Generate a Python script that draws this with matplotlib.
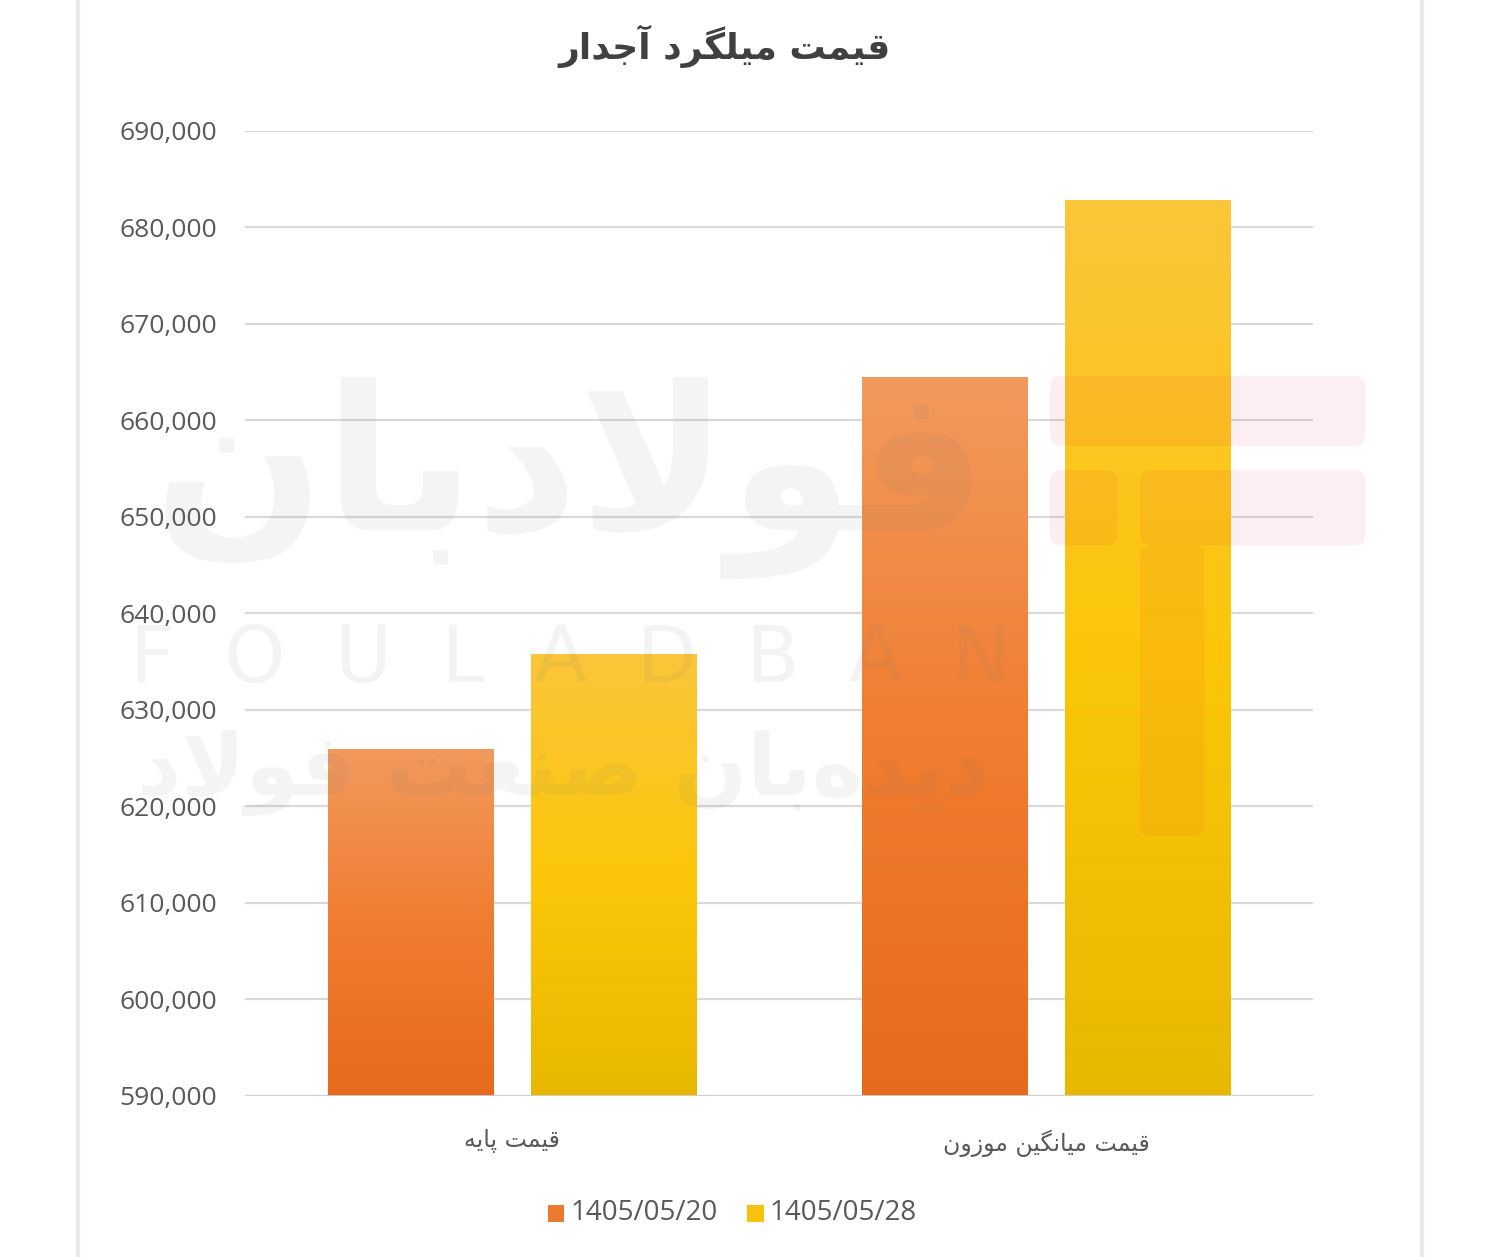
import numpy as np
import matplotlib.pyplot as plt
from matplotlib.colors import LinearSegmentedColormap
from matplotlib.patches import FancyBboxPatch

# داده‌ها
categories = ['قیمت پایه', 'قیمت میانگین موزون']
series_names = ['1405/05/20', '1405/05/28']
price_0520 = [626000, 664500]
price_0528 = [635800, 682800]
y_ticks = np.arange(590000, 690001, 10000)
title = 'قیمت میلگرد آجدار'

# شکل‌دهی ساده حروف فارسی (matplotlib خودش شکل‌دهی نمی‌کند)
FORMS = {
    'ا': ('\uFE8D', '\uFE8E', None, None), 'آ': ('\uFE81', '\uFE82', None, None),
    'ب': ('\uFE8F', '\uFE90', '\uFE91', '\uFE92'), 'پ': ('\uFB56', '\uFB57', '\uFB58', '\uFB59'),
    'ت': ('\uFE95', '\uFE96', '\uFE97', '\uFE98'), 'ج': ('\uFE9D', '\uFE9E', '\uFE9F', '\uFEA0'),
    'د': ('\uFEA9', '\uFEAA', None, None), 'ر': ('\uFEAD', '\uFEAE', None, None),
    'ز': ('\uFEAF', '\uFEB0', None, None), 'ص': ('\uFEB9', '\uFEBA', '\uFEBB', '\uFEBC'),
    'ع': ('\uFEC9', '\uFECA', '\uFECB', '\uFECC'), 'ف': ('\uFED1', '\uFED2', '\uFED3', '\uFED4'),
    'ق': ('\uFED5', '\uFED6', '\uFED7', '\uFED8'), 'گ': ('\uFB92', '\uFB93', '\uFB94', '\uFB95'),
    'ل': ('\uFEDD', '\uFEDE', '\uFEDF', '\uFEE0'), 'م': ('\uFEE1', '\uFEE2', '\uFEE3', '\uFEE4'),
    'ن': ('\uFEE5', '\uFEE6', '\uFEE7', '\uFEE8'), 'ه': ('\uFEE9', '\uFEEA', '\uFEEB', '\uFEEC'),
    'و': ('\uFEED', '\uFEEE', None, None), 'ی': ('\uFBFC', '\uFBFD', '\uFBFE', '\uFBFF'),
}
LAM_ALEF = {'ا': ('\uFEFB', '\uFEFC'), 'آ': ('\uFEF5', '\uFEF6')}


def fa(text):
    out = []
    i = 0
    n = len(text)
    while i < n:
        ch = text[i]
        if ch not in FORMS:
            if ch != '\u200c':
                out.append(ch)
            i += 1
            continue
        prev = text[i - 1] if i > 0 else ''
        joins_prev = prev in FORMS and FORMS[prev][2] is not None
        nxt = text[i + 1] if i + 1 < n else ''
        if ch == 'ل' and nxt in LAM_ALEF:
            out.append(LAM_ALEF[nxt][1 if joins_prev else 0])
            i += 2
            continue
        joins_next = nxt in FORMS and FORMS[ch][2] is not None
        iso, fin, ini, med = FORMS[ch]
        if joins_prev and joins_next:
            out.append(med)
        elif joins_prev:
            out.append(fin)
        elif joins_next:
            out.append(ini)
        else:
            out.append(iso)
        i += 1
    return ''.join(reversed(out))


fig = plt.figure(figsize=(15, 12.57), dpi=100)
fig.patch.set_facecolor('white')

# قاب کارت
card = FancyBboxPatch((0.052, -0.05), 0.896, 1.08, boxstyle='round,pad=0,rounding_size=0.03',
                      transform=fig.transFigure, facecolor='white', edgecolor='#e8e8e8',
                      linewidth=3, zorder=-5)
fig.patches.append(card)

ax = fig.add_axes([0.1633, 0.1281, 0.712, 0.7677])
ax.set_facecolor('none')
ax.set_zorder(1)

x = np.arange(len(categories))
width = 0.31
offset = 0.19
grad_specs = [
    (price_0520, -offset, ['#f29a5e', '#f07d30', '#e66a1c']),
    (price_0528, offset, ['#fbc53a', '#fcc70a', '#e8b800']),
]
base = 590000
for vals, off, cols in grad_specs:
    bars = ax.bar(x + off, np.array(vals) - base, width, bottom=base, color=cols[1],
                  zorder=2, linewidth=0)
    cmap = LinearSegmentedColormap.from_list('g', cols[::-1])
    grad = np.linspace(0, 1, 256).reshape(-1, 1)
    for b in bars:
        x0, y0 = b.get_x(), b.get_y()
        x1, y1 = x0 + b.get_width(), y0 + b.get_height()
        im = ax.imshow(grad, extent=[x0, x1, y0, y1], origin='lower', aspect='auto',
                       cmap=cmap, zorder=3)
        im.set_clip_path(b)

ax.set_xlim(-0.5, 1.5)
ax.set_ylim(590000, 690000)
ax.set_yticks(y_ticks)
ax.set_yticklabels([f'{v:,}' for v in y_ticks], fontsize=19, color='#595959',
                   family='Open Sans')
ax.set_xticks(x)
ax.set_xticklabels([fa(c) for c in categories], fontsize=17, color='#595959',
                   family='DejaVu Sans')
ax.tick_params(axis='both', length=0)
ax.tick_params(axis='y', pad=20)
ax.tick_params(axis='x', pad=24)
ax.grid(axis='y', color='#d9d9d9', linewidth=1.6, zorder=1)
ax.set_axisbelow(True)
for s in ax.spines.values():
    s.set_visible(False)
ax.axhline(590000, color='#d0d0d0', linewidth=2, zorder=4)

fig.text(0.483, 0.963, fa(title), ha='center', va='center', fontsize=26,
         fontweight='bold', color='#404040', family='DejaVu Sans')

# لژند
leg_cols = ['#ee7a32', '#f7c20e']
lx = [0.365, 0.498]
for c, name, xx in zip(leg_cols, series_names, lx):
    fig.patches.append(plt.Rectangle((xx, 0.028), 0.011, 0.013, transform=fig.transFigure,
                                     facecolor=c, edgecolor='none'))
    fig.text(xx + 0.015, 0.035, name, ha='left', va='center', fontsize=20,
             color='#595959', family='Open Sans')

# واترمارک
wm = '#7a7a7a'
fig.text(0.38, 0.62, fa('فولادبان'), ha='center', va='center', fontsize=145,
         fontweight='bold', color=wm, alpha=0.08, family='DejaVu Sans', zorder=10)
fig.text(0.38, 0.475, '  '.join('FOULADBAN'), ha='center', va='center', fontsize=56,
         color=wm, alpha=0.09, family='DejaVu Sans', zorder=10)
fig.text(0.375, 0.385, fa('دیده\u200cبان صنعت فولاد'), ha='center', va='center',
         fontsize=62, fontweight='bold', color=wm, alpha=0.08, family='DejaVu Sans',
         zorder=10)
for rx, ry, rw, rh in [(0.70, 0.645, 0.21, 0.056), (0.70, 0.566, 0.045, 0.06),
                       (0.76, 0.566, 0.15, 0.06), (0.76, 0.335, 0.043, 0.231)]:
    fig.patches.append(FancyBboxPatch((rx, ry), rw, rh, boxstyle='round,pad=0,rounding_size=0.008',
                                      transform=fig.transFigure, facecolor='#e8283a',
                                      edgecolor='none', alpha=0.07, zorder=10))

fig.savefig('out.png', dpi=100, facecolor='white')
